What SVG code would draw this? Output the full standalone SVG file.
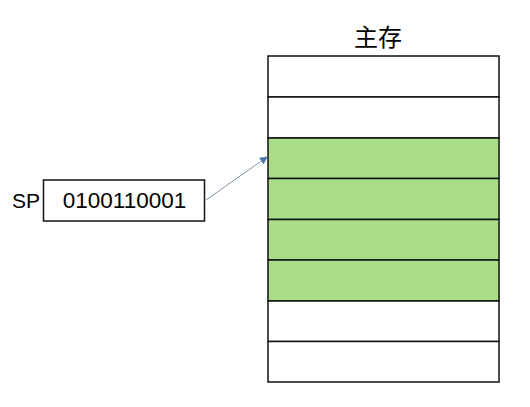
<svg xmlns="http://www.w3.org/2000/svg" width="530" height="407" viewBox="0 0 530 407">
<style>
.t{font-family:"Liberation Sans","Noto Sans",sans-serif;fill:#000}
.cjk{font-family:"Noto Sans CJK SC",sans-serif;font-size:24px;fill:#000}
.cell{stroke:#111;stroke-width:1.5}
.w{fill:#fff}
.g{fill:#a9dd88}
</style>
<defs>
<marker id="ah" markerWidth="8" markerHeight="8" refX="7" refY="4" orient="auto" markerUnits="userSpaceOnUse">
<path d="M0,0 L8,4 L0,8 Z" fill="#4a78a6"/>
</marker>
</defs>
<rect width="530" height="407" fill="#fff"/>
<g id="memory">
<text class="cjk" x="378" y="46" text-anchor="middle">主存</text>
<rect class="cell w" x="268" y="56" width="231" height="41"/>
<rect class="cell w" x="268" y="97" width="231" height="41"/>
<rect class="cell g" x="268" y="138" width="231" height="40.5"/>
<rect class="cell g" x="268" y="178.5" width="231" height="41"/>
<rect class="cell g" x="268" y="219.5" width="231" height="40.5"/>
<rect class="cell g" x="268" y="260" width="231" height="41"/>
<rect class="cell w" x="268" y="301" width="231" height="40.5"/>
<rect class="cell w" x="268" y="341.5" width="231" height="40.5"/>
</g>
<g id="sp">
<text class="t" x="12" y="208" font-size="21">SP</text>
<rect x="43.5" y="180" width="161" height="41" fill="#fff" stroke="#111" stroke-width="1.5"/>
<text class="t" x="124.5" y="208" text-anchor="middle" font-size="22.5">0100110001</text>
</g>
<g id="connectors">
<line x1="206" y1="200" x2="267" y2="157" stroke="#7f93a8" stroke-width="1" marker-end="url(#ah)"/>
</g>
</svg>
